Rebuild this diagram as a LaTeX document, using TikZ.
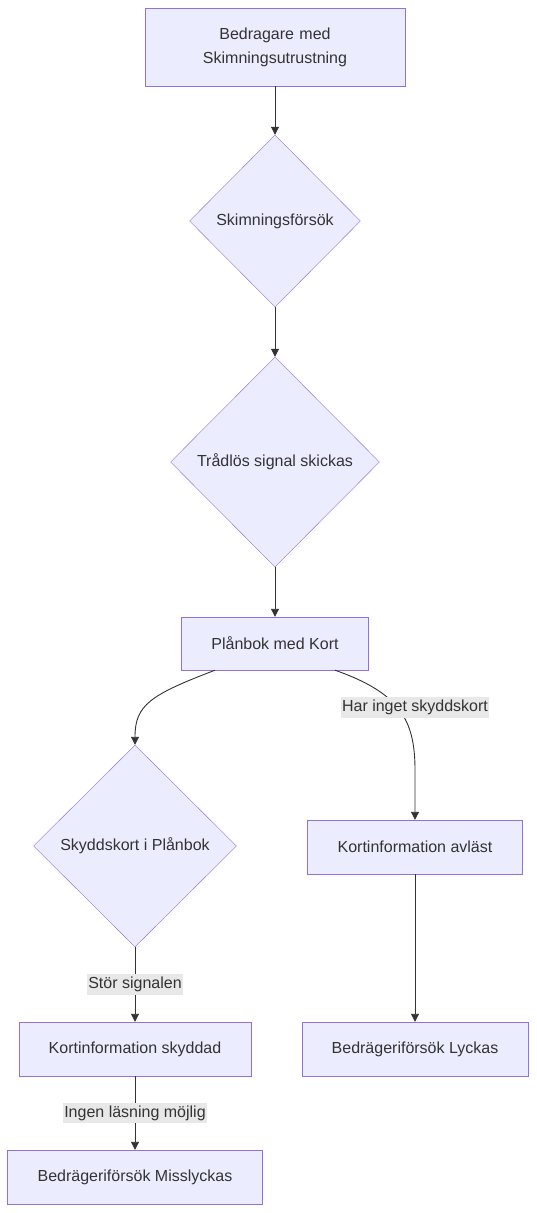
\documentclass[tikz,border=0pt]{standalone}
\usepackage{fontspec}
\setmainfont{Liberation Sans}
\usepackage{tikz}
\usetikzlibrary{shapes.geometric,arrows.meta}
\definecolor{boxfill}{HTML}{ECECFF}
\definecolor{boxline}{HTML}{9370DB}
\definecolor{ink}{HTML}{333333}
\definecolor{lblfill}{HTML}{E8E8E8}

\begin{document}
\begin{tikzpicture}[x=1pt, y=-1pt, font=\fontsize{16}{24}\selectfont, text=ink,
	box/.style = {shape=rectangle, draw=boxline, fill=boxfill, align=center, inner xsep=30pt, minimum height=54pt},
	choice/.style = {shape=diamond, draw=boxline, fill=boxfill, align=center, inner sep=0pt},
	lbl/.style = {fill=lblfill, inner xsep=1pt, inner ysep=3pt},
	flow/.style = {draw=ink, line width=0.9pt, -{Triangle[length=8pt, width=8pt]}}]
	\useasboundingbox (0,0) rectangle (536,1213);
	\node[box, text width=200pt, minimum height=78pt, inner xsep=30pt] (fraud) at (275,47) {Bedragare med\\Skimningsutrustning};
	\node[choice, minimum width=171pt, minimum height=172pt] (skim) at (275,221) {Skimningsförsök};
	\node[choice, minimum width=209pt, minimum height=210pt] (signal) at (275,462) {Trådlös signal skickas};
	\node[box, minimum height=53pt] (wallet) at (275,643.5) {Plånbok med Kort};
	\node[choice, minimum width=203pt, minimum height=202pt] (shield) at (135,846) {Skyddskort i Plånbok};
	\node[box] (read) at (415,847) {Kortinformation avläst};
	\node[box] (safe) at (135,1049) {Kortinformation skyddad};
	\node[box] (win) at (415,1049) {Bedrägeriförsök Lyckas};
	\node[box] (fail) at (135,1177) {Bedrägeriförsök Misslyckas};
	% connectors
	\draw[flow] (fraud) -- (skim);
	\draw[flow] (skim) -- (signal);
	\draw[flow] (signal) -- (wallet);
	\draw[flow] ([xshift=-60pt]wallet.south) .. controls (150,695) and (135,705) .. (shield.north);
	\draw[flow] ([xshift=60pt]wallet.south) .. controls (400,693) and (415,720) .. (415,770) -- (read.north);
	\node[lbl] (nocard) at (415,707.5) {Har inget skyddskort};
	\draw[flow] (shield) -- node[lbl] (jam) {Stör signalen} (safe);
	\draw[flow] (read) -- (win);
	\draw[flow] (safe) -- node[lbl] (noread) {Ingen läsning möjlig} (fail);
\end{tikzpicture}
\end{document}
